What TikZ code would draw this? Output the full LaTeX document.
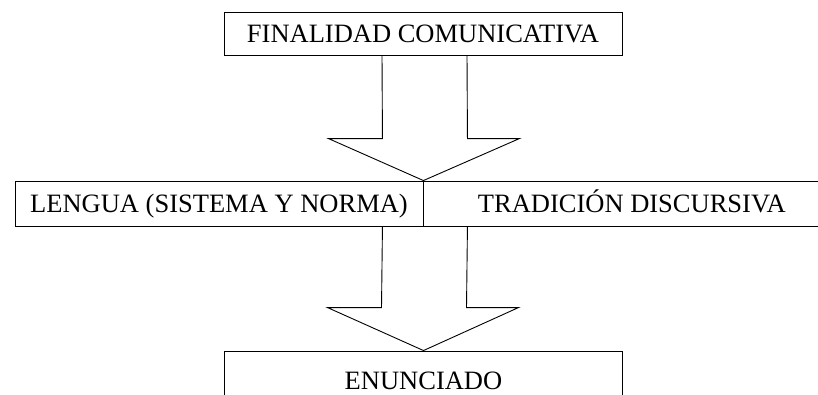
\documentclass[tikz,border=0pt]{standalone}
\usepackage{fontspec}
\setmainfont{Liberation Serif}
\usetikzlibrary{positioning,calc}

\tikzset{
    caja/.style={draw, line width=0.9pt, inner sep=0pt, font=\fontsize{26.5}{30}\selectfont,
                 text height=17.5pt, text depth=0pt},
    flecha/.style={draw, line width=0.9pt}
}

\begin{document}
\begin{tikzpicture}[x=1pt, y=-1pt]
                \useasboundingbox (0,0) rectangle (818,394);
                \clip (0,0) rectangle (818,394);

                % Top box
                \node[caja, minimum width=398pt, minimum height=43pt] (finalidad) at (423,33.5) {FINALIDAD COMUNICATIVA};

                % Middle boxes
                \node[caja, minimum width=408pt, minimum height=45pt] (lengua) at (219,203.5) {LENGUA (SISTEMA Y NORMA)};
                \node[caja, minimum width=416pt, minimum height=45pt, right=0pt of lengua] (tradicion) {TRADICIÓN DISCURSIVA};

                % Bottom box (cut by the page edge)
                \node[caja, minimum width=398pt, minimum height=60pt] (enunciado) at (423.5,381) {ENUNCIADO};

                % Arrow tips
                \coordinate (punta1) at (lengua.north east);
                \coordinate (punta2) at (enunciado.north);

                % First block arrow
                \draw[flecha] ($(finalidad.south)+(-41,0)$) -- ($(punta1)+(-41,-42)$) -- ($(punta1)+(-95,-42)$)
                    -- (punta1) -- ($(punta1)+(96,-42)$) -- ($(punta1)+(44,-42)$) -- ($(finalidad.south)+(44,0)$);

                % Second block arrow
                \draw[flecha] ($(lengua.south east)+(-41,0)$) -- ($(punta2)+(-42,-43)$) -- ($(punta2)+(-96,-43)$)
                    -- (punta2) -- ($(punta2)+(95,-43)$) -- ($(punta2)+(43,-43)$) -- ($(lengua.south east)+(44,0)$);
\end{tikzpicture}
\end{document}
